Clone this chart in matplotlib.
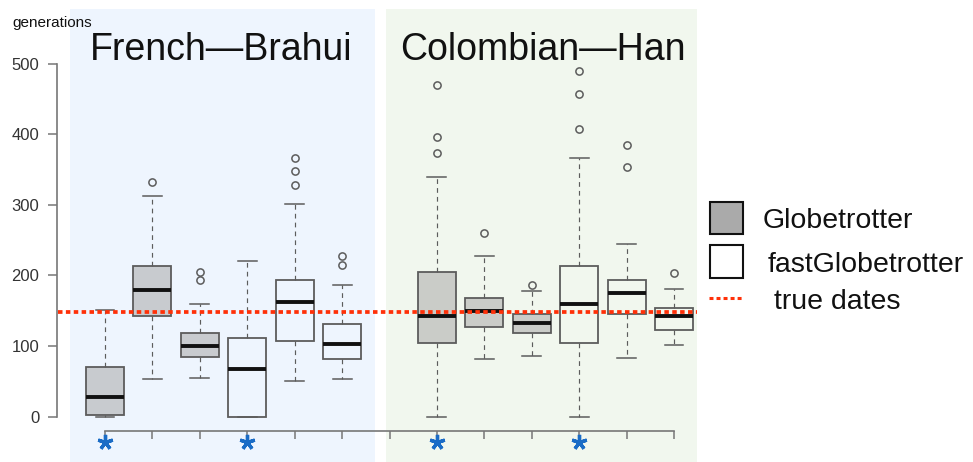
import numpy as np
import matplotlib
matplotlib.use("Agg")
import matplotlib.pyplot as plt
from matplotlib.patches import Rectangle
from matplotlib.lines import Line2D

plt.rcParams["font.family"] = ["Liberation Sans", "DejaVu Sans"]

# ---- data -------------------------------------------------------------
groups = ["French\u2014Brahui", "Colombian\u2014Han"]
methods = ["Globetrotter", "fastGlobetrotter"]
true_date = 148

# one box per run: 3 Globetrotter + 3 fastGlobetrotter for each pair
box_method = [0, 0, 0, 1, 1, 1, 0, 0, 0, 1, 1, 1]
medians = [28, 180, 100, 67, 163, 103, 142, 149, 132, 160, 175, 143]
q1 = [3, 143, 84, 0, 107, 82, 105, 127, 119, 105, 145, 123]
q3 = [70, 213, 118, 111, 194, 131, 205, 168, 146, 213, 193, 154]
whislo = [0, 53, 55, 0, 51, 53, 0, 81, 86, 0, 83, 101]
whishi = [151, 312, 159, 220, 301, 187, 339, 228, 178, 366, 245, 181]
fliers = [[], [332], [193, 205], [], [328, 348, 366], [215, 228],
          [374, 396, 469], [260], [187], [407, 457, 490], [353, 384], [204]]
starred = [True, False, False, True, False, False,
           True, False, False, True, False, False]
y_ticks = [0, 100, 200, 300, 400, 500]

# ---- figure / axes geometry -----------------------------------------
W, H = 973, 462
fig = plt.figure(figsize=(W / 100, H / 100), dpi=100)
ax = fig.add_axes([0, 0, 1, 1])
ax.patch.set_visible(False)

x0_px, dx_px = 105.0, (674.0 - 105.0) / 12     # slot 1 pixel, slot spacing
y0_px, dy_px = 416.7, (416.7 - 63.5) / 500      # zero line, px per generation
ax.set_xlim(1 - x0_px / dx_px, 1 + (W - x0_px) / dx_px)
ax.set_ylim(-(H - y0_px) / dy_px, y0_px / dy_px)

def fx(px):
    return px / W

def fy(py):
    return 1 - py / H

# shaded panels behind each population pair
fig.patches.append(Rectangle((fx(70), fy(462)), fx(375) - fx(70), fy(9) - fy(462),
                             transform=fig.transFigure, facecolor="#eef5fe",
                             edgecolor="none", zorder=-5))
fig.patches.append(Rectangle((fx(386), fy(462)), fx(697) - fx(386), fy(9) - fy(462),
                             transform=fig.transFigure, facecolor="#f1f7ee",
                             edgecolor="none", zorder=-5))

# ---- boxplots ---------------------------------------------------------
positions = np.concatenate([np.arange(1, 7), np.arange(8, 14)])
stats = []
for i in range(len(medians)):
    stats.append(dict(med=medians[i], q1=q1[i], q3=q3[i],
                      whislo=whislo[i], whishi=whishi[i], fliers=fliers[i]))

edge = "#5c5c5c"
bp = ax.bxp(stats, positions=positions, widths=0.8, capwidths=0.4,
            patch_artist=True, showfliers=True,
            boxprops=dict(edgecolor=edge, linewidth=1.3),
            whiskerprops=dict(color=edge, linewidth=0.85, linestyle=(0, (4, 3.5))),
            capprops=dict(color=edge, linewidth=1.1),
            medianprops=dict(color="#111111", linewidth=2.8, solid_capstyle="butt"),
            flierprops=dict(marker="o", markersize=5.2, markerfacecolor="none",
                            markeredgecolor=edge, markeredgewidth=1.1))
for patch, m in zip(bp["boxes"], box_method):
    if m == 0:
        patch.set_facecolor((0.667, 0.667, 0.667, 0.55))
    else:
        patch.set_facecolor("none")
for artist_list in bp.values():
    for a in artist_list:
        a.set_zorder(3)

# true admixture date
red = "#ff3008"
ax.axhline(true_date, xmin=fx(58), xmax=fx(697), color=red,
           linewidth=2.7, linestyle=(0, (1.2, 0.9)), dash_capstyle="butt",
           zorder=4)

# significance stars under the axis
star_pos = positions[np.array(starred)]
ax.plot(star_pos, np.full(len(star_pos), -(441.7 - y0_px) / dy_px), linestyle="none",
        marker=(5, 2, 0), markersize=11, markeredgewidth=2.4,
        color="#1a6cc6", zorder=6, clip_on=False)

# ---- axes -------------------------------------------------------------
axis_col = "#777777"
for s in ["top", "right"]:
    ax.spines[s].set_visible(False)
ax.spines["left"].set_position(("data", 1 - (x0_px - 57.3) / dx_px))
ax.spines["left"].set_bounds(0, 500)
ax.spines["bottom"].set_position(("data", -(431.0 - y0_px) / dy_px))
ax.spines["bottom"].set_bounds(1, 13)
for s in ["left", "bottom"]:
    ax.spines[s].set_color(axis_col)
    ax.spines[s].set_linewidth(1.2)

ax.set_yticks(y_ticks)
ax.set_yticklabels([str(v) for v in y_ticks])
ax.set_xticks(np.arange(1, 14))
ax.set_xticklabels([])
ax.tick_params(axis="y", direction="out", length=6.5, width=1.1, color=axis_col,
               pad=6.5, labelsize=12, labelcolor="#333333")
ax.tick_params(axis="x", direction="out", length=6, width=1.1, color=axis_col)

# ---- titles and labels ---------------------------------------------
fig.text(fx(12), fy(27), "generations", fontsize=11, color="#111111",
         ha="left", va="baseline")
fig.text(fx(221), fy(60), groups[0], fontsize=27, color="#111111",
         ha="center", va="baseline")
fig.text(fx(542.5), fy(60.5), groups[1], fontsize=27, color="#111111",
         ha="center", va="baseline")

# ---- legend -----------------------------------------------------------
fig.patches.append(Rectangle((fx(709.5), fy(234)), fx(743.3) - fx(709.5), fy(201.7) - fy(234),
                             transform=fig.transFigure, facecolor="#aaaaaa",
                             edgecolor="#111111", linewidth=1.5))
fig.patches.append(Rectangle((fx(709.5), fy(278)), fx(743.3) - fx(709.5), fy(245) - fy(278),
                             transform=fig.transFigure, facecolor="white",
                             edgecolor="#111111", linewidth=1.5))
fig.lines.append(Line2D([fx(709), fx(743)], [fy(298.3), fy(298.3)],
                        transform=fig.transFigure, color=red, linewidth=2.2,
                        linestyle=(0, (1.3, 1.0)), dash_capstyle="butt"))
fig.text(fx(762.7), fy(228.3), methods[0], fontsize=20.5, color="#111111",
         ha="left", va="baseline")
fig.text(fx(767.7), fy(271.7), methods[1], fontsize=20.5, color="#111111",
         ha="left", va="baseline")
fig.text(fx(774.3), fy(309), "true dates", fontsize=20.5, color="#111111",
         ha="left", va="baseline")

fig.savefig("out.png", dpi=100)
